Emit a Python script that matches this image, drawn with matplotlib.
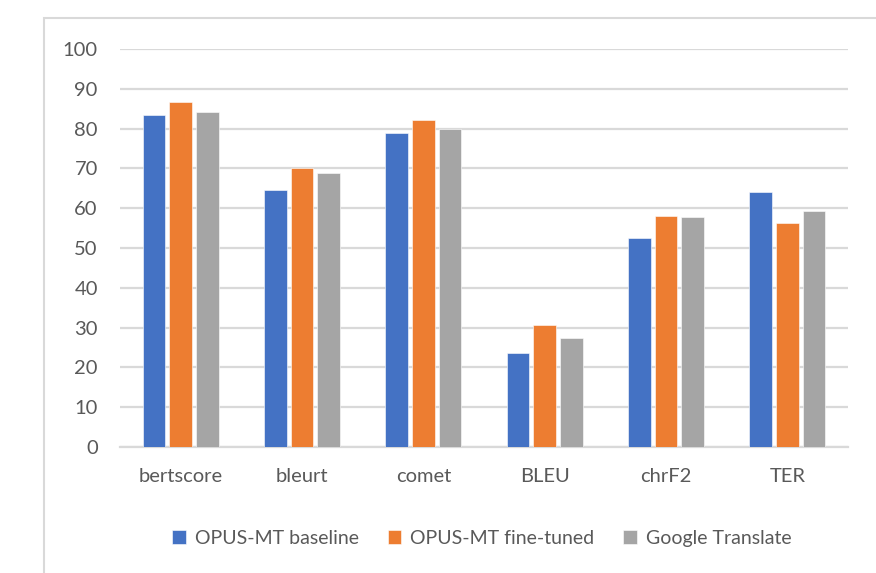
import numpy as np
import matplotlib
matplotlib.use('Agg')
import matplotlib.pyplot as plt
from matplotlib.patches import Rectangle

plt.rcParams['font.family'] = ['Lato', 'DejaVu Sans']

categories = ['bertscore', 'bleurt', 'comet', 'BLEU', 'chrF2', 'TER']
series_names = ['OPUS-MT baseline', 'OPUS-MT fine-tuned', 'Google Translate']
baseline = [83.4, 64.6, 78.9, 23.5, 52.6, 64.1]
finetuned = [86.6, 70.2, 82.1, 30.7, 58.1, 56.4]
google = [84.1, 68.8, 80.0, 27.5, 57.8, 59.2]
colors = ['#4472c4', '#ed7d31', '#a5a5a5']
yticks = [0, 10, 20, 30, 40, 50, 60, 70, 80, 90, 100]

fig = plt.figure(figsize=(8.76, 5.73), dpi=100)
ax = fig.add_axes([120/876, 126/573, 728/876, 398/573])

x = np.arange(len(categories))
w = 0.185
off = 0.22
for i, vals in enumerate([baseline, finetuned, google]):
    ax.bar(x + (i - 1) * off, vals, width=w, color=colors[i],
           label=series_names[i], zorder=3, edgecolor='white', linewidth=0.4)

ax.set_xlim(-0.5, len(categories) - 0.5)
ax.set_ylim(0, 100)
ax.set_yticks(yticks)
ax.set_xticks(x)
ax.set_xticklabels(categories)
ax.grid(axis='y', color='#d9d9d9', linewidth=1.6, zorder=0)
for s in ['top', 'right', 'left']:
    ax.spines[s].set_visible(False)
ax.spines['bottom'].set_color('#d9d9d9')
ax.spines['bottom'].set_linewidth(1.6)
ax.tick_params(axis='both', length=0, labelsize=14.5, colors='#595959')
ax.tick_params(axis='y', pad=16)
ax.tick_params(axis='x', pad=15)

fig.legend(loc='center', bbox_to_anchor=(0.55, 0.061), ncol=3, frameon=False,
           fontsize=14, labelcolor='#595959', handlelength=0.7, handleheight=0.7,
           handletextpad=0.45, columnspacing=1.5)

fig.patches.append(Rectangle((44/876, -0.1), 1.2, (573-18)/573 + 0.1,
                             transform=fig.transFigure, fill=False,
                             edgecolor='#d9d9d9', linewidth=1.5))

fig.savefig('out.png', dpi=100)
